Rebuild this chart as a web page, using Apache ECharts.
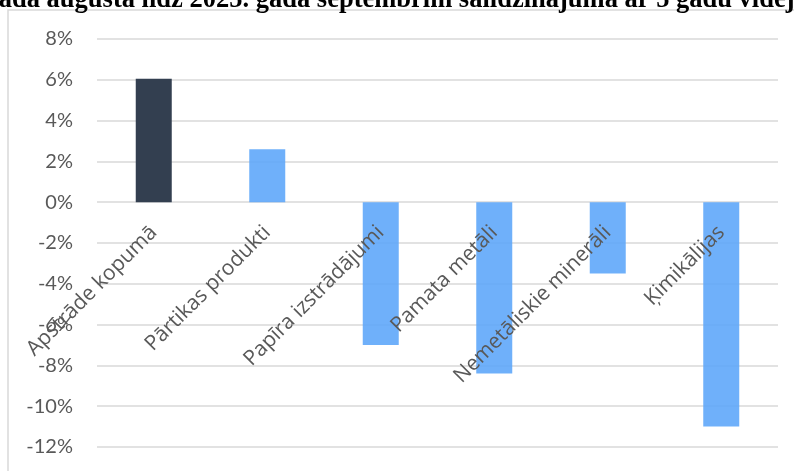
<!DOCTYPE html>
<html>
<head>
<meta charset="utf-8">
<script src="https://cdn.jsdelivr.net/npm/echarts@6/dist/echarts.min.js"></script>
<style>
html,body{margin:0;padding:0;background:#fff;}
#c{width:794px;height:471px;}
</style>
</head>
<body>
<div id="c"></div>
<script>
const titleText = 'gada augusta līdz 2025. gada septembrim salīdzinājumā ar 5 gadu vidējo līmeni';
const categories = ['Apstrāde kopumā', 'Pārtikas produkti', 'Papīra izstrādājumi', 'Pamata metāli', 'Nemetāliskie minerāli', 'Ķimikālijas'];
const values = [6.05, 2.6, -7.0, -8.4, -3.5, -11.0];
const yTicks = {min: -12, max: 8, interval: 2};
const totalColor = '#333f50';
const sectorColor = 'rgba(95,167,250,0.9)';

const gridTop = 39, gridBottom = 24, H = 471;
const plotH = H - gridTop - gridBottom;
const zeroFromBottom = plotH * (0 - yTicks.min) / (yTicks.max - yTicks.min);

const chart = echarts.init(document.getElementById('c'), null, {renderer: 'canvas'});
chart.setOption({
  animation: false,
  backgroundColor: '#fff',
  graphic: [
    {type: 'rect', shape: {x: 8, y: 10, width: 900, height: 600}, style: {fill: 'none', stroke: '#d9d9d9', lineWidth: 1.5}, z: -1},
    {type: 'text', x: -14.5, y: -13, style: {text: titleText, font: 'bold 26.5px "Liberation Serif"', fill: '#000'}}
  ],
  grid: {left: 97, right: 16, top: gridTop, bottom: gridBottom, containLabel: false, outerBoundsMode: 'none'},
  xAxis: {
    type: 'category',
    data: categories,
    position: 'bottom',
    offset: -zeroFromBottom,
    z: 10,
    axisLine: {show: false, onZero: false},
    axisTick: {show: false},
    axisLabel: {interval: 0, rotate: 45, fontFamily: 'Open Sans', fontSize: 21, color: '#595959', margin: 27}
  },
  yAxis: {
    type: 'value',
    min: yTicks.min, max: yTicks.max, interval: yTicks.interval,
    axisLine: {show: false},
    axisTick: {show: false},
    splitLine: {lineStyle: {color: '#d9d9d9', width: 1.5}},
    axisLabel: {formatter: v => v + '%', fontFamily: 'Lato', fontSize: 20, color: '#595959', margin: 24}
  },
  series: [{
    type: 'bar',
    data: values,
    barWidth: 36,
    z: 2,
    itemStyle: {color: p => p.dataIndex === 0 ? totalColor : sectorColor}
  }]
});
</script>
</body>
</html>
